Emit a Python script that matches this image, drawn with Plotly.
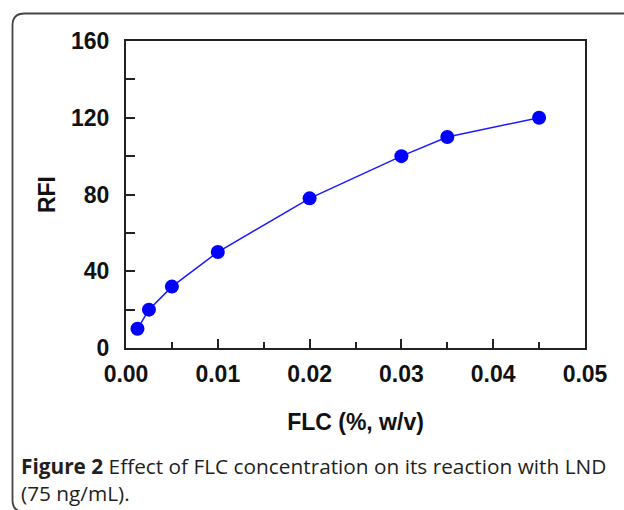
import plotly.graph_objects as go

# Data
flc = [0.00125, 0.0025, 0.005, 0.01, 0.02, 0.03, 0.035, 0.045]
rfi = [10, 20, 32, 50, 78, 100, 110, 120]
x_tick_vals = [0.0, 0.01, 0.02, 0.03, 0.04, 0.05]
x_tick_text = ["0.00", "0.01", "0.02", "0.03", "0.04", "0.05"]
y_tick_vals = [0, 40, 80, 120, 160]
y_tick_text = ["0", "40", "80", "120", "160"]
x_title = "FLC (%, w/v)"
y_title = "RFI"
caption_bold = "Figure 2"
caption_line1 = " Effect of FLC concentration on its reaction with LND"
caption_line2 = "(75 ng/mL)."

W, H = 624, 510
L, R, T, B = 126, 585, 41, 348

def px(X):
    return (X - L) / (R - L)

def py(Y):
    return (B - Y) / (B - T)

fig = go.Figure()
fig.add_trace(go.Scatter(
    x=flc, y=rfi, mode="lines+markers",
    line=dict(color="#1a1aff", width=1.5),
    marker=dict(color="#0000ff", size=14),
    showlegend=False, cliponaxis=False,
))

axis_font = dict(family="Liberation Sans, Arial", size=23, color="#111", weight="bold")

fig.update_xaxes(
    range=[0, 0.05], tickvals=x_tick_vals, ticktext=x_tick_text,
    ticks="inside", ticklen=9, tickwidth=1.5, tickcolor="#222",
    minor=dict(dtick=0.005, tick0=0, ticks="inside", ticklen=6, tickwidth=1.5, tickcolor="#222"),
    showline=True, linecolor="#222", linewidth=2, mirror=True,
    showgrid=False, zeroline=False, tickfont=axis_font, ticklabelstandoff=4,
    title=dict(text=x_title, font=axis_font, standoff=28),
)
fig.update_yaxes(
    range=[0, 160], tickvals=y_tick_vals, ticktext=y_tick_text,
    ticks="inside", ticklen=9, tickwidth=1.5, tickcolor="#222",
    minor=dict(dtick=20, tick0=0, ticks="inside", ticklen=9, tickwidth=1.5, tickcolor="#222"),
    showline=True, linecolor="#222", linewidth=2, mirror=True,
    showgrid=False, zeroline=False, tickfont=axis_font, ticklabelstandoff=10,
    title=dict(text=y_title, font=axis_font, standoff=9),
)

# Rounded frame around the figure
x0, y0, x1, y1, r = 12.5, 13.5, 640, 512, 12
path = (f"M {px(x1)},{py(y0)} L {px(x0 + r)},{py(y0)} "
        f"Q {px(x0)},{py(y0)} {px(x0)},{py(y0 + r)} "
        f"L {px(x0)},{py(y1 - r)} "
        f"Q {px(x0)},{py(y1)} {px(x0 + r)},{py(y1)} "
        f"L {px(x1)},{py(y1)}")
fig.add_shape(type="path", path=path, xref="paper", yref="paper",
              line=dict(color="#444", width=1.8))

cap_font = dict(family="Open Sans", size=20.8, color="#231f20")
fig.add_annotation(text=f"<b>{caption_bold}</b>{caption_line1}", xref="paper", yref="paper",
                   x=px(19), y=py(466), xanchor="left", yanchor="middle",
                   showarrow=False, font=cap_font)
fig.add_annotation(text=caption_line2, xref="paper", yref="paper",
                   x=px(19), y=py(493), xanchor="left", yanchor="middle",
                   showarrow=False, font=cap_font)

fig.update_layout(
    width=W, height=H,
    margin=dict(l=L, r=W - R, t=T, b=H - B),
    paper_bgcolor="white", plot_bgcolor="white",
)

fig.write_html("out.html", config={"displayModeBar": False},
               post_script="document.body.style.margin='0';document.body.style.overflow='hidden';")
